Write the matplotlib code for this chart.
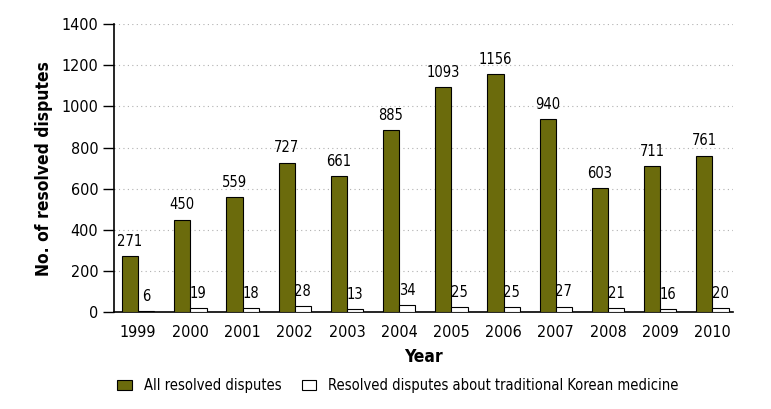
import numpy as np
import matplotlib.pyplot as plt

years = ["1999", "2000", "2001", "2002", "2003", "2004", "2005", "2006", "2007", "2008", "2009", "2010"]
all_disputes = [271, 450, 559, 727, 661, 885, 1093, 1156, 940, 603, 711, 761]
korean_med = [6, 19, 18, 28, 13, 34, 25, 25, 27, 21, 16, 20]

plt.rcParams["font.family"] = ["DejaVu Sans"]
plt.rcParams["font.stretch"] = "condensed"

fig = plt.figure(figsize=(7.71, 4.09), dpi=100)
ax = fig.add_axes([0.148, 0.237, 0.803, 0.704])

x = np.arange(len(years))
w = 0.31
b1 = ax.bar(x - w / 2, all_disputes, w, color="#6b6b0c", edgecolor="black", linewidth=0.8,
            label="All resolved disputes", zorder=3)
b2 = ax.bar(x + w / 2, korean_med, w, color="white", edgecolor="black", linewidth=0.8,
            label="Resolved disputes about traditional Korean medicine", zorder=3)

for i in range(len(years)):
    ax.text(x[i] - w / 2, all_disputes[i] + 35, str(all_disputes[i]), ha="center", va="bottom", fontsize=10.5)
    ax.text(x[i] + w / 2, korean_med[i] + 35, str(korean_med[i]), ha="center", va="bottom", fontsize=10.5)

ax.set_xlim(-0.46, 11.4)
ax.set_ylim(0, 1400)
ax.set_yticks(range(0, 1401, 200))
ax.set_xticks(x)
ax.set_xticklabels(years, fontsize=11.5)
ax.tick_params(axis="x", length=0, pad=9)
ax.tick_params(axis="y", labelsize=11.5, length=8, width=1)
ax.yaxis.grid(True, linestyle=(0, (1, 3)), color="#b0b0b0", linewidth=0.8, zorder=0)

for s in ["top", "right"]:
    ax.spines[s].set_visible(False)
ax.spines["left"].set_linewidth(1.2)
ax.spines["bottom"].set_linewidth(1.2)

ax.set_xlabel("Year", fontsize=12.5, fontweight="bold", labelpad=6)
ax.set_ylabel("No. of resolved disputes", fontsize=12.5, fontweight="bold", labelpad=6)

fig.legend(handles=[b1, b2], loc="center", bbox_to_anchor=(0.516, 0.057), ncol=2, frameon=False,
           fontsize=10.5, handlelength=1.0, handleheight=0.6, handletextpad=0.8, columnspacing=1.4)

fig.savefig("out.png", dpi=100)
